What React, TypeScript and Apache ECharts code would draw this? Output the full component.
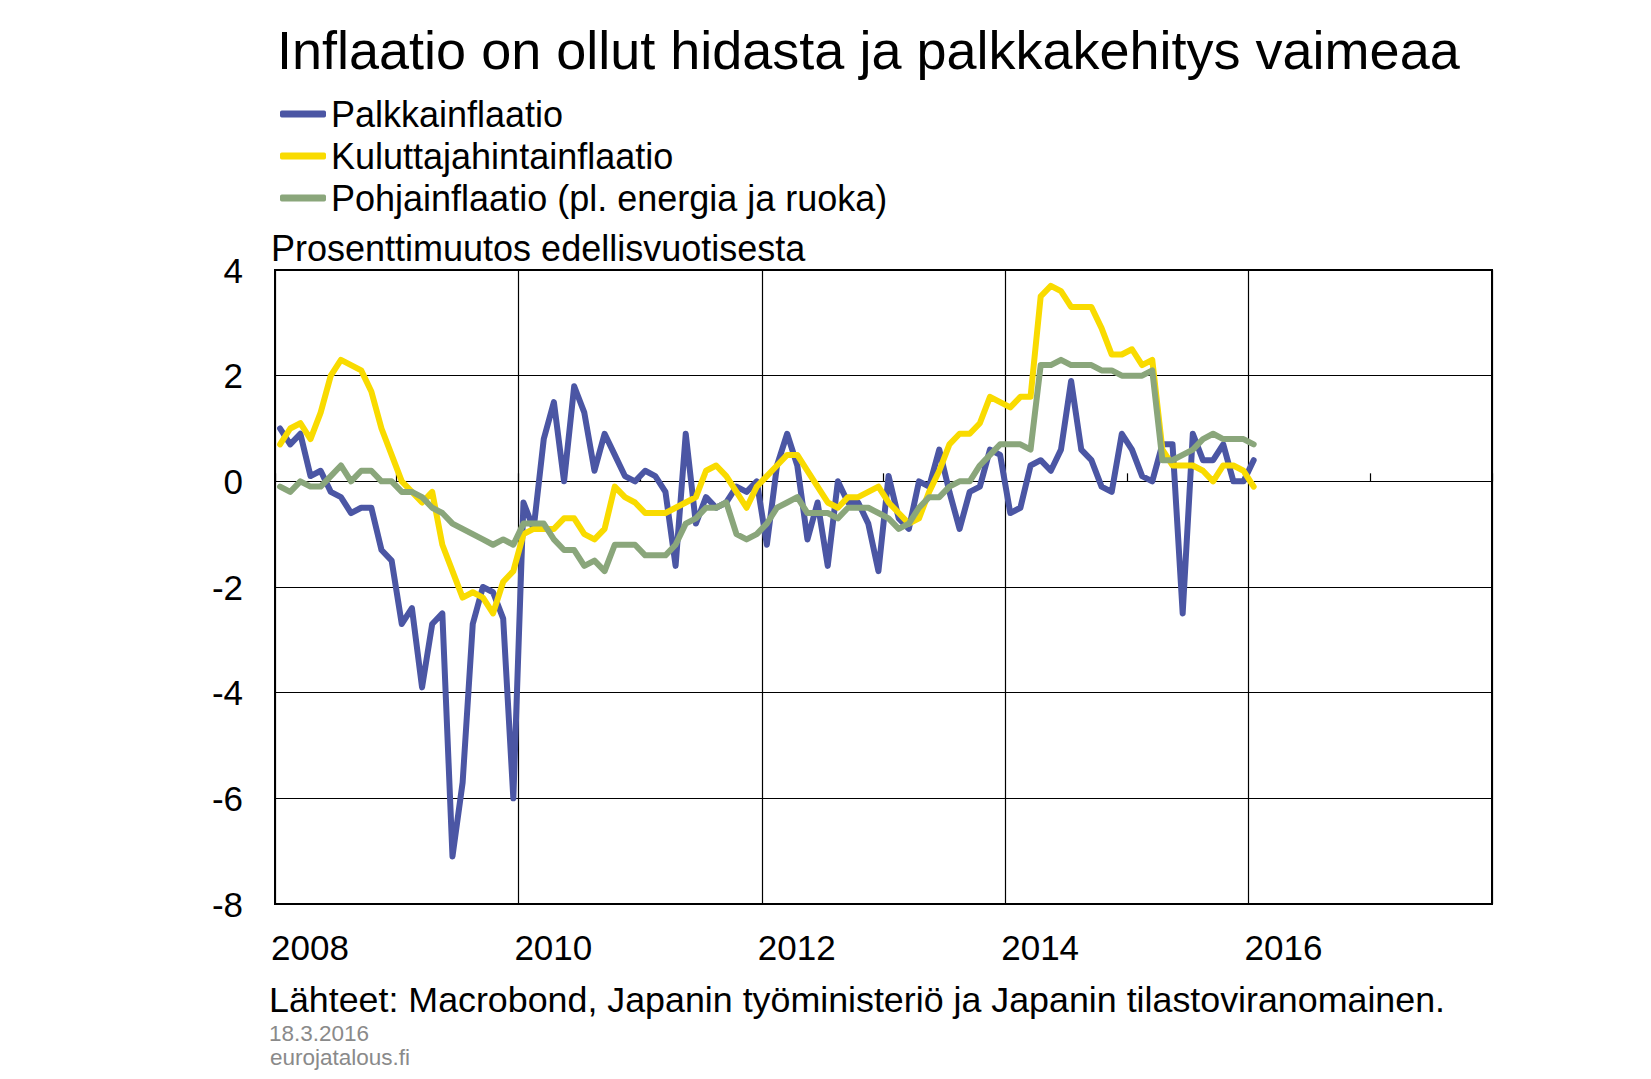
import React, { useEffect, useRef } from "react";
import * as echarts from "echarts";

// Monthly data, Jan 2008 .. Jan 2016 (year-on-year % change)
const startYear = 2008;
const seriesNames = [
  "Palkkainflaatio",
  "Kuluttajahintainflaatio",
  "Pohjainflaatio (pl. energia ja ruoka)",
];
const palkkainflaatio = [
  1.0, 0.7, 0.9, 0.1, 0.2, -0.2, -0.3, -0.6, -0.5, -0.5, -1.3, -1.5,
  -2.7, -2.4, -3.9, -2.7, -2.5, -7.1, -5.7, -2.7, -2.0, -2.1, -2.6, -6.0,
  -0.4, -0.9, 0.8, 1.5, 0.0, 1.8, 1.3, 0.2, 0.9, 0.5, 0.1, 0.0,
  0.2, 0.1, -0.2, -1.6, 0.9, -0.8, -0.3, -0.5, -0.4, -0.1, -0.2, 0.0,
  -1.2, 0.3, 0.9, 0.3, -1.1, -0.4, -1.6, 0.0, -0.4, -0.4, -0.8, -1.7,
  0.1, -0.7, -0.9, 0.0, -0.1, 0.6, -0.2, -0.9, -0.2, -0.1, 0.6, 0.5,
  -0.6, -0.5, 0.3, 0.4, 0.2, 0.6, 1.9, 0.6, 0.4, -0.1, -0.2, 0.9,
  0.6, 0.1, 0.0, 0.7, 0.7, -2.5, 0.9, 0.4, 0.4, 0.7, 0.0, 0.0,
  0.4,
];
const kuluttajahintainflaatio = [
  0.7, 1.0, 1.1, 0.8, 1.3, 2.0, 2.3, 2.2, 2.1, 1.7, 1.0, 0.5,
  0.0, -0.2, -0.4, -0.2, -1.2, -1.7, -2.2, -2.1, -2.2, -2.5, -1.9, -1.7,
  -1.0, -0.9, -0.9, -0.9, -0.7, -0.7, -1.0, -1.1, -0.9, -0.1, -0.3, -0.4,
  -0.6, -0.6, -0.6, -0.5, -0.4, -0.3, 0.2, 0.3, 0.1, -0.2, -0.5, -0.1,
  0.1, 0.3, 0.5, 0.5, 0.2, -0.1, -0.4, -0.5, -0.3, -0.3, -0.2, -0.1,
  -0.4, -0.6, -0.8, -0.7, -0.2, 0.2, 0.7, 0.9, 0.9, 1.1, 1.6, 1.5,
  1.4, 1.6, 1.6, 3.5, 3.7, 3.6, 3.3, 3.3, 3.3, 2.9, 2.4, 2.4,
  2.5, 2.2, 2.3, 0.6, 0.3, 0.3, 0.3, 0.2, 0.0, 0.3, 0.3, 0.2,
  -0.1,
];
const pohjainflaatio = [
  -0.1, -0.2, 0.0, -0.1, -0.1, 0.1, 0.3, 0.0, 0.2, 0.2, 0.0, 0.0,
  -0.2, -0.2, -0.3, -0.5, -0.6, -0.8, -0.9, -1.0, -1.1, -1.2, -1.1, -1.2,
  -0.8, -0.8, -0.8, -1.1, -1.3, -1.3, -1.6, -1.5, -1.7, -1.2, -1.2, -1.2,
  -1.4, -1.4, -1.4, -1.2, -0.8, -0.7, -0.5, -0.5, -0.4, -1.0, -1.1, -1.0,
  -0.8, -0.5, -0.4, -0.3, -0.6, -0.6, -0.6, -0.7, -0.5, -0.5, -0.5, -0.6,
  -0.7, -0.9, -0.8, -0.5, -0.3, -0.3, -0.1, 0.0, 0.0, 0.3, 0.5, 0.7,
  0.7, 0.7, 0.6, 2.2, 2.2, 2.3, 2.2, 2.2, 2.2, 2.1, 2.1, 2.0,
  2.0, 2.0, 2.1, 0.4, 0.4, 0.5, 0.6, 0.8, 0.9, 0.8, 0.8, 0.8,
  0.7,
];
const seriesColors = ["#4B56A4", "#F9DB00", "#8AA67B"];

const titleText = "Inflaatio on ollut hidasta ja palkkakehitys vaimeaa";
const unitText = "Prosenttimuutos edellisvuotisesta";
const sourceText =
  "Lähteet: Macrobond, Japanin työministeriö ja Japanin tilastoviranomainen.";
const dateText = "18.3.2016";
const siteText = "eurojatalous.fi";

const FONT = "'Liberation Sans', Arial, Helvetica, sans-serif";

const toPoints = (arr: number[]) =>
  arr.map((v, i) => [startYear + (i + 0.5) / 12, v]);

function txt(text: string, x: number, y: number, size: number, color = "#000") {
  return {
    type: "text",
    x,
    y,
    silent: true,
    style: {
      text,
      fontSize: size,
      fontFamily: FONT,
      fill: color,
      align: "left",
      verticalAlign: "middle",
      textAlign: "left",
      textVerticalAlign: "middle",
    },
  };
}

export default function App() {
  const ref = useRef<HTMLDivElement>(null);
  useEffect(() => {
    if (!ref.current) return;
    const chart = echarts.init(ref.current, undefined, { renderer: "svg" });
    const allData = [palkkainflaatio, kuluttajahintainflaatio, pohjainflaatio];
    chart.setOption({
      animation: false,
      backgroundColor: "#ffffff",
      textStyle: { fontFamily: FONT },
      grid: {
        left: 275,
        top: 270,
        right: 159,
        bottom: 175,
        show: true,
        borderColor: "#000",
        borderWidth: 2,
        backgroundColor: "transparent",
        z: 3,
      },
      legend: {
        orient: "vertical",
        left: 280,
        top: 96,
        padding: 0,
        itemGap: 6,
        itemWidth: 46,
        itemHeight: 7,
        icon: "roundRect",
        selectedMode: false,
        textStyle: { fontSize: 36, color: "#000", lineHeight: 36, fontFamily: FONT },
        data: seriesNames,
      },
      xAxis: [
        {
          type: "value",
          min: 2008,
          max: 2018,
          interval: 2,
          position: "bottom",
          axisLine: { show: false, onZero: false },
          axisTick: { show: false },
          splitLine: { show: true, lineStyle: { color: "#000", width: 1.2 } },
          axisLabel: {
            fontSize: 35,
            color: "#000",
            align: "left",
            margin: 26,
            padding: [0, 0, 0, -4],
            showMaxLabel: false,
            formatter: (v: number) => String(v),
          },
        },
        {
          type: "value",
          min: 2008,
          max: 2018,
          interval: 1,
          position: "top",
          axisLine: { show: true, onZero: true, lineStyle: { color: "#000", width: 1.2 } },
          axisTick: { show: true, inside: false, length: 8, lineStyle: { color: "#000", width: 1.2 } },
          axisLabel: { show: false },
          splitLine: { show: false },
        },
      ],
      yAxis: {
        type: "value",
        min: -8,
        max: 4,
        interval: 2,
        axisLine: { show: false },
        axisTick: { show: false },
        splitLine: { show: true, lineStyle: { color: "#000", width: 1.2 } },
        axisLabel: { fontSize: 35, color: "#000", margin: 32 },
      },
      series: seriesNames.map((name, k) => ({
        name,
        type: "line",
        xAxisIndex: 0,
        showSymbol: false,
        symbol: "none",
        color: seriesColors[k],
        z: 5 + k,
        lineStyle: { width: 6, color: seriesColors[k], join: "round", cap: "round" },
        itemStyle: { color: seriesColors[k] },
        data: toPoints(allData[k]),
      })),
      graphic: [
        txt(titleText, 277, 49.5, 54),
        txt(unitText, 271, 248, 36),
        txt(sourceText, 269, 1000, 35.8),
        txt(dateText, 269, 1033, 22.5, "#8a8a8a"),
        txt(siteText, 270, 1057, 22.5, "#8a8a8a"),
      ],
    });
    return () => chart.dispose();
  }, []);
  return (
    <div
      ref={ref}
      style={{ position: "fixed", left: 0, top: 0, width: 1651, height: 1079, background: "#fff" }}
    />
  );
}
